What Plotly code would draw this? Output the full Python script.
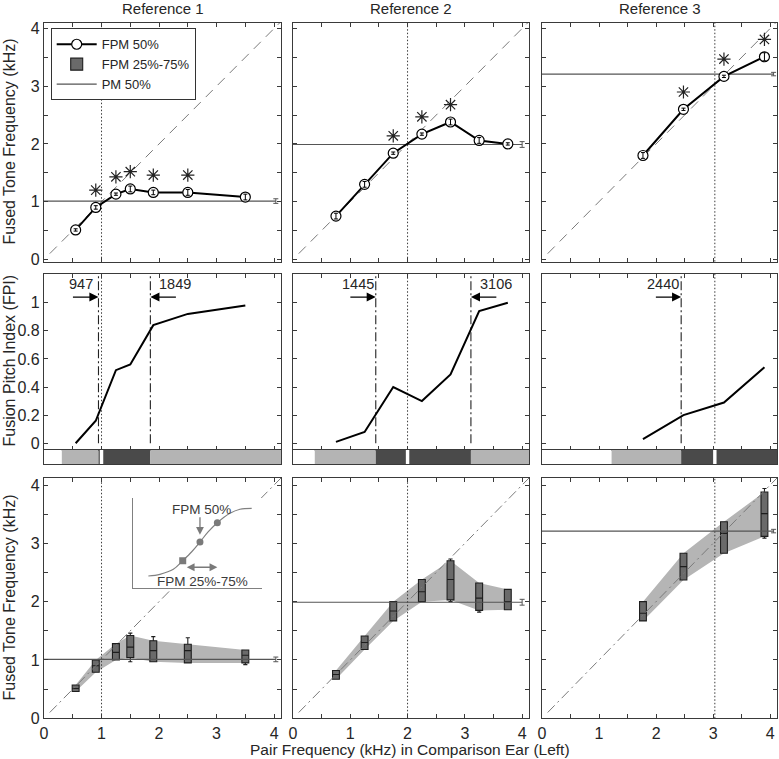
import plotly.graph_objects as go

# ---------------- data ----------------
panel_titles = ["Reference 1", "Reference 2", "Reference 3"]
ref_freq = [1.0, 2.0, 3.03]          # reference-ear frequency (kHz)
pm_50 = [1.01, 1.99, 3.21]           # pitch match 50% (kHz)
pm_err = [0.04, 0.05, 0.03]
pm_err_x = [4.03, 4.0, 4.06]

pair_freq_1 = [0.55, 0.9, 1.25, 1.5, 1.9, 2.5, 3.5]
pair_freq_2 = [0.75, 1.25, 1.75, 2.25, 2.75, 3.25, 3.75]
pair_freq_3 = [1.77, 2.48, 3.19, 3.9]

fpm50_1 = [0.51, 0.9, 1.13, 1.22, 1.16, 1.16, 1.08]
fpm50_2 = [0.75, 1.3, 1.84, 2.17, 2.38, 2.06, 2.0]
fpm50_3 = [1.8, 2.6, 3.17, 3.51]

fpm50_err_1 = [0.02, 0.03, 0.02, 0.05, 0.04, 0.05, 0.05]
fpm50_err_2 = [0.05, 0.05, 0.02, 0.02, 0.05, 0.05, 0.02]
fpm50_err_3 = [0.05, 0.02, 0.02, 0.07]

signif_1 = [0, 1, 1, 1, 1, 1, 0]
signif_2 = [0, 0, 1, 1, 1, 0, 0]
signif_3 = [0, 1, 1, 1]

fpi_1 = [0.0, 0.16, 0.52, 0.56, 0.84, 0.92, 0.98]
fpi_2 = [0.01, 0.08, 0.40, 0.30, 0.49, 0.94, 1.0]
fpi_3 = [0.03, 0.20, 0.29, 0.54]

fusion_lo = [947, 1445, 2440]        # Hz
fusion_hi = [1849, 3106, None]       # Hz

strip_edges_1 = [0, 0.31, 0.947, 1.849, 4.12]
strip_class_1 = ["none", "partial", "full", "partial"]
strip_edges_2 = [0, 0.38, 1.445, 3.106, 4.12]
strip_class_2 = ["none", "partial", "full", "partial"]
strip_edges_3 = [0, 1.22, 2.44, 4.12]
strip_class_3 = ["none", "partial", "full"]

q1_1 = [0.46, 0.79, 1.0, 1.04, 0.97, 0.95, 0.95]
q3_1 = [0.57, 1.0, 1.28, 1.42, 1.33, 1.27, 1.17]
lo_1 = [0.46, 0.79, 1.0, 0.97, 0.97, 0.95, 0.92]
hi_1 = [0.57, 1.0, 1.28, 1.46, 1.40, 1.38, 1.17]

q1_2 = [0.67, 1.18, 1.67, 2.0, 2.03, 1.85, 1.86]
q3_2 = [0.82, 1.41, 2.0, 2.38, 2.70, 2.32, 2.21]
lo_2 = [0.67, 1.18, 1.67, 2.0, 2.0, 1.82, 1.86]
hi_2 = [0.82, 1.41, 2.0, 2.38, 2.73, 2.32, 2.21]

q1_3 = [1.67, 2.37, 2.83, 3.12]
q3_3 = [2.0, 2.83, 3.37, 3.88]
lo_3 = [1.67, 2.37, 2.83, 3.09]
hi_3 = [2.0, 2.83, 3.37, 3.94]

# inset schematic (normalised coordinates)
inset_curve_x = [0.117, 0.207, 0.311, 0.384, 0.454, 0.518, 0.583, 0.653, 0.751, 0.829, 0.92]
inset_curve_y = [0.136, 0.155, 0.210, 0.306, 0.405, 0.513, 0.627, 0.726, 0.830, 0.875, 0.886]
inset_q_x = [0.384, 0.518, 0.653]
inset_q_y = [0.306, 0.513, 0.726]

pair_freq = [pair_freq_1, pair_freq_2, pair_freq_3]
fpm50 = [fpm50_1, fpm50_2, fpm50_3]
fpm50_err = [fpm50_err_1, fpm50_err_2, fpm50_err_3]
signif = [signif_1, signif_2, signif_3]
fpi = [fpi_1, fpi_2, fpi_3]
strip_edges = [strip_edges_1, strip_edges_2, strip_edges_3]
strip_class = [strip_class_1, strip_class_2, strip_class_3]
q1 = [q1_1, q1_2, q1_3]
q3 = [q3_1, q3_2, q3_3]
lo = [lo_1, lo_2, lo_3]
hi = [hi_1, hi_2, hi_3]

# ---------------- layout helpers ----------------
W, H = 779, 759


def PX(p):   # window pixel x -> paper fraction
    return p / W


def PY(p):   # window pixel y -> paper fraction
    return 1 - p / H


col_px = [(44, 281), (293, 529), (542, 777)]
row_px = [(22.7, 261.7), (274, 450), (450, 464), (478, 718.3)]
XR = [0, 4.12]
YR_TOP = [-0.04, 4.1]
YR_MID = [-0.048, 1.204]
YR_BOT = [0, 4.12]
yranges = [YR_TOP, YR_MID, [0, 1], YR_BOT]

AX = "#3a3a3a"
TXT = "#262626"
FONT = "Liberation Sans, Arial, sans-serif"
DIAG = "#7a7a7a"
PMC = "#555555"
BAND = "#b5b5b5"
BOXF = "#6a6a6a"
STRIP_COL = {"none": "white", "partial": "#b4b4b4", "full": "#4a4a4a"}


def ax_id(r, c):
    n = r * 3 + c + 1
    return ("x" if n == 1 else f"x{n}"), ("y" if n == 1 else f"y{n}")


def lay_key(a):
    return a[0] + "axis" + a[1:]


fig = go.Figure()
layout = {}

half_vals = [i * 0.5 for i in range(9)]
half_text = [str(int(v)) if v == int(v) else "" for v in half_vals]
fpi_vals = [0, 0.2, 0.4, 0.6, 0.8, 1.0]
fpi_text = ["0", "0.2", "0.4", "0.6", "0.8", "1"]

for r in range(4):
    for c in range(3):
        xa, ya = ax_id(r, c)
        x0, x1 = col_px[c]
        y0, y1 = row_px[r]
        xd = dict(domain=[PX(x0), PX(x1)], range=XR, anchor=ya, automargin=False,
                  showline=True, linecolor=AX, linewidth=1.3, mirror="allticks",
                  ticks="inside", ticklen=4, tickcolor=AX, tickwidth=1,
                  showgrid=False, zeroline=False,
                  tickvals=half_vals, ticktext=half_text,
                  showticklabels=(r == 3),
                  tickfont=dict(size=16, color=TXT, family=FONT))
        if r == 2:
            xd.update(ticks="", tickvals=[])
        yd = dict(domain=[PY(y1), PY(y0)], range=yranges[r], anchor=xa, automargin=False,
                  showline=True, linecolor=AX, linewidth=1.3, mirror="allticks",
                  ticks="inside", ticklen=4, tickcolor=AX, tickwidth=1,
                  showgrid=False, zeroline=False,
                  showticklabels=(c == 0),
                  tickfont=dict(size=16, color=TXT, family=FONT))
        if r in (0, 3):
            yd.update(tickvals=half_vals, ticktext=half_text)
        elif r == 1:
            yd.update(tickvals=fpi_vals, ticktext=fpi_text)
        else:
            yd.update(ticks="", tickvals=[])
        layout[lay_key(xa)] = xd
        layout[lay_key(ya)] = yd

shapes = []
annotations = []

for c in range(3):
    xs = pair_freq[c]
    first = (c == 0)

    # ---------- top row ----------
    xa, ya = ax_id(0, c)
    fig.add_trace(go.Scatter(x=[0.1, XR[1]], y=[0.1, XR[1]], mode="lines", xaxis=xa, yaxis=ya,
                             line=dict(color=DIAG, width=1, dash="10px,7px"), showlegend=False))
    fig.add_trace(go.Scatter(x=[ref_freq[c], ref_freq[c]], y=YR_TOP, mode="lines", xaxis=xa, yaxis=ya,
                             line=dict(color=AX, width=1, dash="1.5px,2px"), showlegend=False))
    fig.add_trace(go.Scatter(x=[0, pm_err_x[c]], y=[pm_50[c], pm_50[c]], mode="lines", xaxis=xa, yaxis=ya,
                             line=dict(color=PMC, width=1.2), name="PM 50%",
                             showlegend=first, legendrank=3))
    fig.add_trace(go.Scatter(x=[pm_err_x[c]], y=[pm_50[c]], mode="markers", xaxis=xa, yaxis=ya,
                             marker=dict(size=1, color="rgba(0,0,0,0)"),
                             error_y=dict(type="data", array=[pm_err[c]], color=PMC, thickness=1, width=2.5),
                             showlegend=False))
    fig.add_trace(go.Scatter(x=xs, y=fpm50[c], mode="lines+markers", xaxis=xa, yaxis=ya,
                             line=dict(color="black", width=2),
                             marker=dict(symbol="circle", size=10, color="white",
                                         line=dict(color="black", width=1.2)),
                             name="FPM 50%", showlegend=first, legendrank=1))
    fig.add_trace(go.Scatter(x=xs, y=fpm50[c], mode="markers", xaxis=xa, yaxis=ya,
                             marker=dict(size=1, color="rgba(0,0,0,0)"),
                             error_y=dict(type="data", array=fpm50_err[c], color="black",
                                          thickness=1, width=2),
                             showlegend=False))
    sx = [x for x, s in zip(xs, signif[c]) if s]
    sy = [y + 0.3 for y, s in zip(fpm50[c], signif[c]) if s]
    fig.add_trace(go.Scatter(x=sx, y=sy, mode="markers", xaxis=xa, yaxis=ya,
                             marker=dict(symbol="asterisk-open", size=11, color="#222222",
                                         line=dict(color="#222222", width=1.2)),
                             showlegend=False))

    # ---------- middle row ----------
    xa, ya = ax_id(1, c)
    fig.add_trace(go.Scatter(x=[ref_freq[c], ref_freq[c]], y=[0, YR_MID[1]], mode="lines", xaxis=xa, yaxis=ya,
                             line=dict(color=AX, width=1, dash="1.5px,2px"), showlegend=False))
    edges = [e for e in (fusion_lo[c], fusion_hi[c]) if e is not None]
    for e in edges:
        fig.add_trace(go.Scatter(x=[e / 1000, e / 1000], y=[0, YR_MID[1]], mode="lines", xaxis=xa, yaxis=ya,
                                 line=dict(color="#222222", width=1.1, dash="9px,3px,2px,3px"),
                                 showlegend=False))
    fig.add_trace(go.Scatter(x=xs, y=fpi[c], mode="lines", xaxis=xa, yaxis=ya,
                             line=dict(color="black", width=2), showlegend=False))
    lo_e = fusion_lo[c] / 1000
    annotations.append(dict(x=lo_e, y=1.04, ax=lo_e - 0.47, ay=1.04, xref=xa, yref=ya,
                            axref=xa, ayref=ya, text="", showarrow=True, arrowhead=2,
                            arrowsize=1.4, arrowwidth=1.3, arrowcolor="black"))
    annotations.append(dict(x=lo_e - 0.31, y=1.13, xref=xa, yref=ya, text=str(fusion_lo[c]),
                            xanchor="center", yanchor="middle",
                            showarrow=False, font=dict(size=14.5, color=TXT, family=FONT)))
    if fusion_hi[c] is not None:
        hi_e = fusion_hi[c] / 1000
        annotations.append(dict(x=hi_e, y=1.04, ax=hi_e + 0.47, ay=1.04, xref=xa, yref=ya,
                                axref=xa, ayref=ya, text="", showarrow=True, arrowhead=2,
                                arrowsize=1.4, arrowwidth=1.3, arrowcolor="black"))
        annotations.append(dict(x=hi_e + 0.43, y=1.13, xref=xa, yref=ya, text=str(fusion_hi[c]),
                                xanchor="center", yanchor="middle",
                                showarrow=False, font=dict(size=14.5, color=TXT, family=FONT)))

    # ---------- strip row ----------
    xa, ya = ax_id(2, c)
    ed = strip_edges[c]
    for i, cls in enumerate(strip_class[c]):
        shapes.append(dict(type="rect", xref=xa, yref=ya, x0=ed[i], x1=ed[i + 1], y0=0, y1=1,
                           fillcolor=STRIP_COL[cls], line=dict(width=0), layer="below"))
    shapes.append(dict(type="rect", xref=xa, yref=ya, x0=ref_freq[c] - 0.03, x1=ref_freq[c] + 0.03,
                       y0=0, y1=1, fillcolor="white", line=dict(width=0), layer="below"))

    # ---------- bottom row ----------
    xa, ya = ax_id(3, c)
    pts = list(zip(xs, q3[c])) + list(zip(xs[::-1], q1[c][::-1]))
    path = "M " + " L ".join(f"{x},{y}" for x, y in pts) + " Z"
    shapes.append(dict(type="path", path=path, xref=xa, yref=ya, fillcolor=BAND,
                       line=dict(width=0), layer="below"))
    fig.add_trace(go.Scatter(x=[0.1, XR[1]], y=[0.1, XR[1]], mode="lines", xaxis=xa, yaxis=ya,
                             line=dict(color=DIAG, width=1, dash="10px,4px,2px,4px"), showlegend=False))
    fig.add_trace(go.Scatter(x=[ref_freq[c], ref_freq[c]], y=YR_BOT, mode="lines", xaxis=xa, yaxis=ya,
                             line=dict(color=AX, width=1, dash="1.5px,2px"), showlegend=False))
    fig.add_trace(go.Scatter(x=[0, pm_err_x[c]], y=[pm_50[c], pm_50[c]], mode="lines", xaxis=xa, yaxis=ya,
                             line=dict(color=PMC, width=1.2), showlegend=False))
    fig.add_trace(go.Scatter(x=[pm_err_x[c]], y=[pm_50[c]], mode="markers", xaxis=xa, yaxis=ya,
                             marker=dict(size=1, color="rgba(0,0,0,0)"),
                             error_y=dict(type="data", array=[pm_err[c]], color=PMC, thickness=1, width=2.5),
                             showlegend=False))
    fig.add_trace(go.Box(x=xs, q1=q1[c], median=fpm50[c], q3=q3[c],
                         lowerfence=lo[c], upperfence=hi[c], width=0.12, whiskerwidth=0.6,
                         fillcolor=BOXF, line=dict(color="#1e1e1e", width=1.1),
                         xaxis=xa, yaxis=ya, name="FPM 25%-75%", showlegend=first,
                         legendrank=2, boxpoints=False, hoverinfo="skip"))

# ---------------- inset schematic ----------------
layout["xaxis13"] = dict(domain=[PX(133.3), PX(262)], range=[0, 1], anchor="y13", automargin=False,
                         showline=True, linecolor="#808080", linewidth=1, mirror=False,
                         showgrid=False, zeroline=False, showticklabels=False, ticks="")
layout["yaxis13"] = dict(domain=[PY(588.3), PY(498)], range=[0, 1], anchor="x13", automargin=False,
                         showline=True, linecolor="#808080", linewidth=1, mirror=False,
                         showgrid=False, zeroline=False, showticklabels=False, ticks="")
fig.add_trace(go.Scatter(x=[0, 1, 1, 0], y=[0, 0, 1, 1], fill="toself", fillcolor="white",
                         mode="lines", line=dict(width=0, color="white"), xaxis="x13", yaxis="y13",
                         showlegend=False, hoverinfo="skip"))
fig.add_trace(go.Scatter(x=inset_curve_x, y=inset_curve_y, mode="lines", line=dict(color="#808080", width=1.2,
                         shape="spline"), xaxis="x13", yaxis="y13", showlegend=False))
fig.add_trace(go.Scatter(x=inset_q_x, y=inset_q_y, mode="markers", xaxis="x13", yaxis="y13",
                         marker=dict(symbol=["square", "circle", "circle"], size=7, color="#7a7a7a"),
                         showlegend=False))
annotations.append(dict(x=inset_q_x[1], y=inset_q_y[1] + 0.08, ax=inset_q_x[1], ay=inset_q_y[1] + 0.29,
                        xref="x13", yref="y13", axref="x13", ayref="y13", text="", showarrow=True,
                        arrowhead=2, arrowsize=1.2, arrowwidth=1.3, arrowcolor="#7a7a7a"))
annotations.append(dict(x=0.53, y=0.875, xref="x13", yref="y13", text="FPM 50%", showarrow=False,
                        xanchor="center", yanchor="middle",
                        font=dict(size=13.5, color="#3a3a3a", family=FONT)))
annotations.append(dict(x=inset_q_x[2], y=0.233, ax=inset_q_x[0] + 0.02, ay=0.233,
                        xref="x13", yref="y13", axref="x13", ayref="y13", text="", showarrow=True,
                        arrowhead=2, startarrowhead=2, arrowside="end+start", arrowsize=1.2,
                        arrowwidth=1.3, arrowcolor="#7a7a7a"))
annotations.append(dict(x=0.54, y=0.073, xref="x13", yref="y13", text="FPM 25%-75%", showarrow=False,
                        xanchor="center", yanchor="middle",
                        font=dict(size=13.5, color="#3a3a3a", family=FONT)))

# ---------------- titles ----------------
for c in range(3):
    x0, x1 = col_px[c]
    annotations.append(dict(x=PX((x0 + x1) / 2), y=PY(8.5), xref="paper", yref="paper",
                            text=panel_titles[c], showarrow=False, xanchor="center", yanchor="middle",
                            font=dict(size=15, color=TXT, family=FONT)))
for text, yc in [("Fused Tone Frequency (kHz)", 142), ("Fusion Pitch Index (FPI)", 361),
                 ("Fused Tone Frequency (kHz)", 598)]:
    annotations.append(dict(x=PX(8.5), y=PY(yc), xref="paper", yref="paper", text=text,
                            textangle=-90, showarrow=False, xanchor="center", yanchor="middle",
                            font=dict(size=16, color=TXT, family=FONT)))
annotations.append(dict(x=PX(410), y=PY(749), xref="paper", yref="paper",
                        text="Pair Frequency (kHz) in Comparison Ear (Left)", showarrow=False,
                        xanchor="center", yanchor="middle",
                        font=dict(size=15.5, color=TXT, family=FONT)))

layout.update(
    width=W, height=H, margin=dict(l=0, r=0, t=0, b=0, autoexpand=False),
    paper_bgcolor="white", plot_bgcolor="white",
    font=dict(family=FONT, color=TXT),
    shapes=shapes, annotations=annotations, boxmode="overlay",
    legend=dict(x=PX(50.7), y=PY(28.3), xanchor="left", yanchor="top",
                bgcolor="white", bordercolor="#333333", borderwidth=1,
                font=dict(size=13, color=TXT, family=FONT), tracegroupgap=0, itemwidth=40),
)
fig.update_layout(**layout)
fig.write_html("out.html", config={"displayModeBar": False},
               post_script="document.body.style.margin='0px';document.body.style.padding='0px';")
